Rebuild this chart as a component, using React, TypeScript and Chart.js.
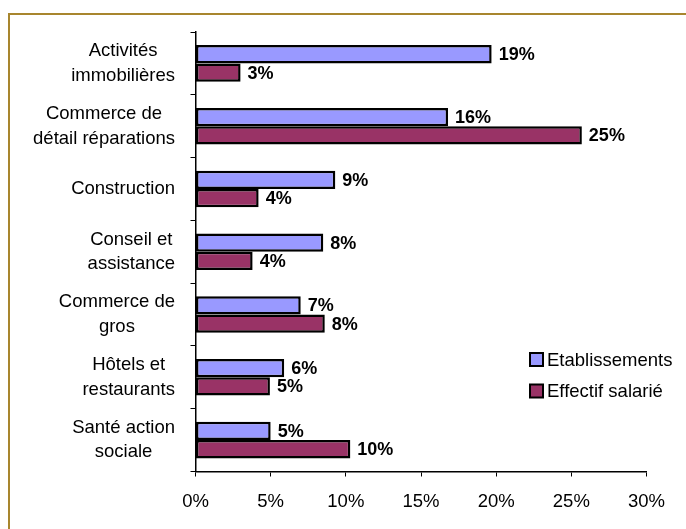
import { useEffect, useRef } from 'react';
import { Chart, registerables } from 'chart.js';

Chart.register(...registerables);

const categories: string[][] = [
  ['Activités', 'immobilières'],
  ['Commerce de', 'détail réparations'],
  ['Construction'],
  ['Conseil et', 'assistance'],
  ['Commerce de', 'gros'],
  ['Hôtels et', 'restaurants'],
  ['Santé action', 'sociale'],
];
const etablissements = [19.7, 16.8, 9.3, 8.5, 7.0, 5.9, 5.0];
const effectifSalarie = [3.0, 25.7, 4.2, 3.8, 8.6, 4.95, 10.3];
const etablissementsLabels = ['19%', '16%', '9%', '8%', '7%', '6%', '5%'];
const effectifLabels = ['3%', '25%', '4%', '4%', '8%', '5%', '10%'];
const seriesNames = ['Etablissements', 'Effectif salarié'];
const xMin = 0;
const xMax = 30;
const xStep = 5;

const FONT = '"Liberation Sans", Arial, Helvetica, sans-serif';

const yLabelPlugin = {
  id: 'yLabels',
  afterDraw(chart: any) {
    const ctx = chart.ctx;
    const yScale = chart.scales.y;
    ctx.save();
    ctx.font = `18.5px ${FONT}`;
    ctx.fillStyle = '#000';
    ctx.textBaseline = 'middle';
    ctx.textAlign = 'center';
    const right = chart.chartArea.left - 20.5;
    const lh = 24.5;
    (chart.data.labels as any[]).forEach((lab, i) => {
      const lines: string[] = Array.isArray(lab) ? lab : [lab];
      const w = Math.max(...lines.map((l) => ctx.measureText(l).width));
      const cx = right - w / 2;
      const cy = yScale.getPixelForValue(i);
      lines.forEach((l, j) => {
        ctx.fillText(l, cx, cy + (j - (lines.length - 1) / 2) * lh);
      });
    });
    ctx.restore();
  },
};

const valueLabelPlugin = {
  id: 'valueLabels',
  afterDatasetsDraw(chart: any) {
    const ctx = chart.ctx;
    ctx.save();
    ctx.font = `bold 18px ${FONT}`;
    ctx.fillStyle = '#000';
    ctx.textBaseline = 'middle';
    ctx.textAlign = 'left';
    const texts = [etablissementsLabels, effectifLabels];
    chart.data.datasets.forEach((_ds: any, di: number) => {
      const meta = chart.getDatasetMeta(di);
      meta.data.forEach((bar: any, i: number) => {
        ctx.fillText(texts[di][i], bar.x + 7, bar.y + 1);
      });
    });
    ctx.restore();
  },
};

const legendPlugin = {
  id: 'customLegend',
  afterDraw(chart: any) {
    const ctx = chart.ctx;
    ctx.save();
    const x0 = 520;
    const y0 = 344.5;
    const gap = 31.5;
    chart.data.datasets.forEach((ds: any, i: number) => {
      const cy = y0 + i * gap;
      ctx.fillStyle = ds.backgroundColor;
      ctx.fillRect(x0, cy - 6.5, 13, 13);
      ctx.lineWidth = 2;
      ctx.strokeStyle = '#000';
      ctx.strokeRect(x0, cy - 6.5, 13, 13);
      ctx.fillStyle = '#000';
      ctx.font = `18.5px ${FONT}`;
      ctx.textAlign = 'left';
      ctx.textBaseline = 'middle';
      ctx.fillText(ds.label, x0 + 17, cy + 1);
    });
    ctx.restore();
  },
};

export default function App() {
  const canvasRef = useRef<HTMLCanvasElement | null>(null);

  useEffect(() => {
    document.documentElement.style.overflow = 'hidden';
    const canvas = canvasRef.current;
    if (!canvas) return;
    const chart = new Chart(canvas, {
      type: 'bar',
      data: {
        labels: categories,
        datasets: [
          {
            label: seriesNames[0],
            data: etablissements,
            backgroundColor: '#9999FF',
            borderColor: '#000',
            borderWidth: 2.5,
            borderSkipped: false,
            categoryPercentage: 0.583,
            barPercentage: 1.0,
          },
          {
            label: seriesNames[1],
            data: effectifSalarie,
            backgroundColor: '#993366',
            borderColor: '#000',
            borderWidth: 2.5,
            borderSkipped: false,
            categoryPercentage: 0.583,
            barPercentage: 1.0,
          },
        ],
      },
      options: {
        indexAxis: 'y',
        animation: false,
        responsive: true,
        maintainAspectRatio: false,
        layout: { padding: { left: 0, right: 39.5, top: 17, bottom: 17.5 } },
        plugins: {
          legend: { display: false },
          tooltip: { enabled: false },
        },
        scales: {
          x: {
            min: xMin,
            max: xMax,
            ticks: {
              stepSize: xStep,
              callback: (v: any) => `${v}%`,
              color: '#000',
              font: { family: FONT, size: 18.5 },
              padding: 14,
              maxRotation: 0,
            },
            grid: {
              drawOnChartArea: false,
              drawTicks: true,
              tickLength: 5,
              color: '#000',
            },
            border: { display: true, color: '#000', width: 1.5 },
            afterFit: (scale: any) => {
              scale.height = 40;
            },
          },
          y: {
            ticks: { display: false },
            grid: {
              drawOnChartArea: false,
              drawTicks: true,
              tickLength: 5,
              color: '#000',
              offset: true,
            },
            border: { display: true, color: '#000', width: 1.5 },
            afterFit: (scale: any) => {
              scale.width = 185.5;
            },
          },
        },
      },
      plugins: [yLabelPlugin, valueLabelPlugin, legendPlugin],
    } as any);
    return () => chart.destroy();
  }, []);

  return (
    <div
      style={{
        position: 'fixed',
        left: 8,
        top: 13,
        right: -20,
        bottom: -20,
        borderTop: '2px solid #A8862E',
        borderLeft: '2px solid #A8862E',
        background: '#fff',
      }}
    >
      <div style={{ position: 'relative', width: 676, height: 514 }}>
        <canvas ref={canvasRef} />
      </div>
    </div>
  );
}
